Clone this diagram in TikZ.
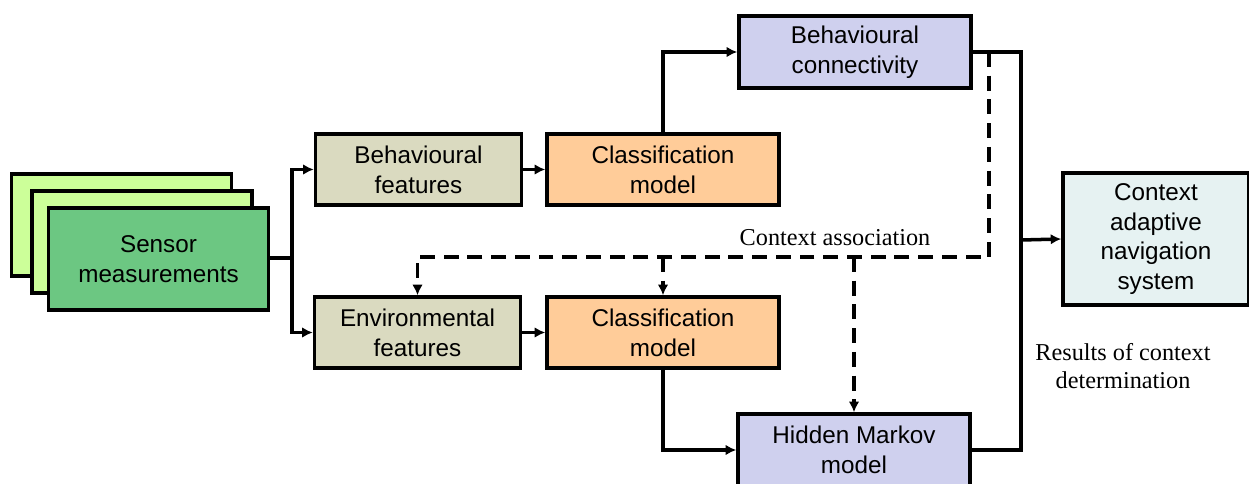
\documentclass[tikz,border=0pt]{standalone}
\usepackage{fontspec}
\setmainfont{Liberation Serif}
\setsansfont{Liberation Sans}
\usetikzlibrary{arrows.meta}
\definecolor{sensfront}{RGB}{108,199,130}
\definecolor{sensback}{RGB}{204,255,153}
\definecolor{featfill}{RGB}{218,218,192}
\definecolor{clsfill}{RGB}{255,204,153}
\definecolor{lilac}{RGB}{207,208,238}
\definecolor{ctxfill}{RGB}{230,242,242}
\begin{document}
\begin{tikzpicture}[>={Latex[length=6pt,width=6pt]}, line width=2pt, font=\sffamily\fontsize{13.8}{17}\selectfont]
\tikzset{
	block/.style={draw, align=center, minimum width=4.64cm, minimum height=1.42cm, inner sep=2pt},
	feat/.style={block, fill=featfill, minimum width=4.12cm},
	cls/.style={block, fill=clsfill},
	seq/.style={block, fill=lilac, minimum height=1.44cm},
	sens/.style={draw, align=center, minimum width=4.4cm, minimum height=2.04cm, fill=sensback},
	note/.style={font=\rmfamily\fontsize{13.8}{16}\selectfont, align=center},
	dashline/.style={dash pattern=on 8.5pt off 5pt}
}
\useasboundingbox (0,0) rectangle (24.98,-9.68);

% Stacked sensor inputs
\node[sens] (s3) at (2.43,-4.50) {};
\node[sens] (s2) at (2.84,-4.84) {};
\node[sens, fill=sensfront] (s1) at (3.17,-5.18) {Sensor\\measurements};

% Feature and classification stages
\node[feat] (bfeat) at (8.37,-3.39) {Behavioural\\features};
\node[cls] (cls1) at (13.26,-3.39) {Classification\\model};
\node[feat] (efeat) at (8.35,-6.65) {Environmental\\features};
\node[cls] (cls2) at (13.26,-6.65) {Classification\\model};

% Context stages
\node[seq] (conn) at (17.10,-1.04) {Behavioural\\connectivity};
\node[seq] (hmm) at (17.08,-9.00) {Hidden Markov\\model};
\node[block, fill=ctxfill, minimum width=3.72cm, minimum height=2.64cm] (ctx) at (23.12,-4.78) {Context\\adaptive\\navigation\\system};

% Helper points
\coordinate (split) at (5.84,-5.16);
\coordinate (bus) at (20.42,-4.80);
\coordinate (dtap) at (19.78,-1.04);
\coordinate (dturn) at (19.78,-5.14);

% Solid flow
\draw (s1.east |- split) -- (split);
\draw[->] (split) |- (bfeat.west);
\draw[->] (split) |- (efeat.west);
\draw[->] (bfeat) -- (cls1);
\draw[->] (efeat) -- (cls2);
\draw[->] (cls1.north) |- (conn.west);
\draw[->] (cls2.south) |- (hmm.west);
\draw (conn.east) -| (bus) |- (hmm.east);
\draw[->] (bus) -- (ctx.west);

% Context association (dashed)
\draw[dashline, ->] (dtap) -- (dturn) -| (efeat.north);
\draw[dashline, ->] (cls2.north |- dturn) -- (cls2.north);
\draw[dashline, ->] (hmm.north |- dturn) -- (hmm.north);

% Labels
\node[note] (assoc) at (16.70,-4.76) {Context association};
\node[note] (result) at (22.46,-7.32) {Results of context\\determination};

\end{tikzpicture}
\end{document}
